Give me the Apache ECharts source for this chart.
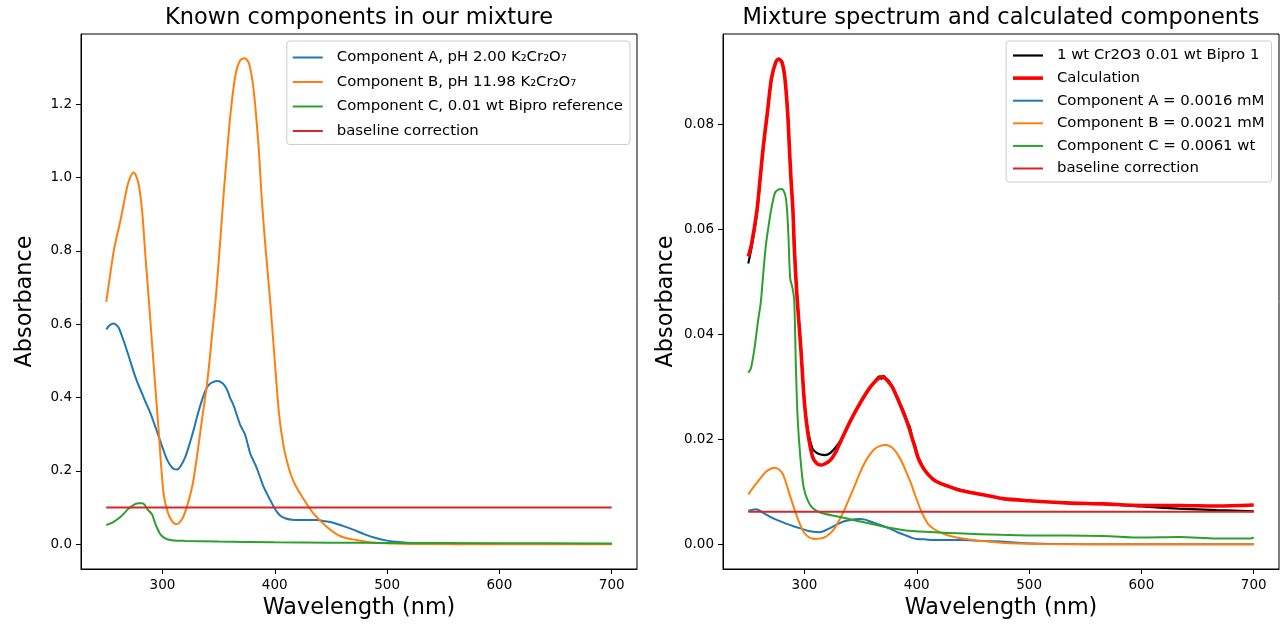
<!DOCTYPE html>
<html>
<head>
<meta charset="utf-8">
<title>Known components and mixture spectrum</title>
<script src="https://cdn.jsdelivr.net/npm/echarts@6/dist/echarts.min.js"></script>
<style>
  html, body { margin: 0; padding: 0; background: #fff; }
  #chart { width: 1281px; height: 625px; }
</style>
</head>
<body>
<div id="chart"></div>
<script>
// ---- tick labels ----
const wavelengthTicks = [300, 400, 500, 600, 700];
const leftAbsTicks = [0, 0.2, 0.4, 0.6, 0.8, 1.0, 1.2];
const rightAbsTicks = [0, 0.02, 0.04, 0.06, 0.08];

// ---- left panel: reference spectra, [wavelength nm, absorbance] ----
const refA = [[250,0.586],[253,0.597],[256.3,0.602],[259,0.598],[261.3,0.589],[264,0.567],[267.2,0.539],[271,0.503],[274.6,0.468],[278,0.439],[282,0.41],[285.5,0.384],[289.4,0.357],[293,0.326],[296.8,0.293],[300.5,0.26],[304.2,0.23],[308,0.211],[310.5,0.205],[313.1,0.204],[316,0.212],[320.5,0.239],[324,0.272],[327.8,0.312],[331.5,0.355],[335.2,0.393],[338,0.417],[341.1,0.434],[345,0.442],[349.1,0.445],[352,0.442],[355.1,0.434],[358,0.418],[360.4,0.398],[362.5,0.385],[364.8,0.366],[367,0.345],[369.3,0.325],[371.5,0.312],[373.7,0.298],[376,0.272],[378.1,0.248],[381,0.228],[384.1,0.207],[387,0.182],[390,0.157],[393,0.138],[395.9,0.121],[398.8,0.104],[401.8,0.089],[405,0.078],[409.2,0.071],[415,0.067],[422.5,0.066],[430,0.066],[437.3,0.066],[445,0.063],[452,0.059],[460,0.051],[469.8,0.040],[480,0.027],[490,0.017],[500,0.010],[510,0.006],[525,0.003],[550,0.0015],[600,0.001],[700,0.0008]];
const refB = [[250,0.661],[253,0.725],[257,0.805],[263,0.888],[269,0.979],[272,1.005],[274,1.013],[276.5,1.005],[279,0.979],[282,0.906],[285,0.779],[288,0.661],[292.3,0.484],[296.8,0.303],[301,0.139],[305,0.085],[309,0.061],[312.5,0.055],[316,0.062],[319,0.078],[323,0.115],[327,0.165],[331,0.245],[335,0.335],[340,0.445],[344,0.565],[348,0.69],[351.5,0.83],[354.4,0.95],[356.5,1.03],[360.5,1.17],[365,1.279],[369,1.318],[373,1.325],[377,1.311],[381,1.243],[385.5,1.088],[388.5,0.938],[392,0.80],[396,0.66],[400,0.50],[404,0.35],[408,0.265],[411,0.225],[414,0.193],[418,0.163],[422.5,0.139],[428,0.112],[434.3,0.0845],[440,0.066],[446.2,0.048],[452,0.034],[458,0.0226],[465,0.016],[472.8,0.0117],[480,0.008],[490,0.004],[505,0.002],[520,0.001],[560,0.0003],[700,0.0]];
const refC = [[250,0.0526],[255.4,0.059],[262.8,0.075],[270.2,0.098],[276.1,0.110],[279,0.112],[282,0.112],[284,0.108],[286.5,0.096],[289,0.088],[291,0.080],[293,0.062],[295.3,0.044],[298,0.028],[301,0.019],[305,0.013],[310,0.0105],[320,0.0093],[350,0.0075],[400,0.0055],[450,0.0045],[500,0.0038],[600,0.003],[700,0.0025]];
const refBaseline = [[250,0.1],[700,0.1]];

// ---- right panel: measured mixture, fit and scaled components ----
const mixWavelength = [250,252.9,257.7,260.6,263.5,267.1,270.7,274.6,277.2,280,282.6,285,286.5,288,289.8,290.9,292.4,293.9,296.9,299.8,302.8,307.2,311,314.5,318,323,327.5,332.5,341.4,350.4,357.8,363.7,366.5,368.5,370.5,372.5,374.5,377.5,380,383,386,389,391.9,394,396.3,398.5,400.8,403.5,406.8,411,415.7,421,427.5,434,442.4,450,460.2,476.6,500,533,566,600,633,667,700];
const mixMeasured = [0.0535,0.0565,0.0630,0.0693,0.0757,0.0822,0.0886,0.0918,0.0925,0.0919,0.0889,0.0826,0.0762,0.0698,0.0635,0.0572,0.0509,0.0458,0.0372,0.0277,0.0221,0.0182,0.0174,0.0171,0.0170,0.0174,0.0184,0.0199,0.0237,0.0272,0.0297,0.0313,0.0320,0.0315,0.0321,0.0316,0.0313,0.0303,0.0290,0.0280,0.0264,0.0250,0.0232,0.0222,0.0201,0.0188,0.0168,0.0156,0.0143,0.0131,0.0122,0.0116,0.0111,0.0106,0.0102,0.0098,0.0094,0.0087,0.0083,0.0079,0.0077,0.0072,0.0068,0.0065,0.0063];
const mixCalculated = [0.0548,0.0572,0.0636,0.0698,0.0760,0.0824,0.0888,0.0919,0.0924,0.0918,0.0888,0.0824,0.0760,0.0697,0.0634,0.0570,0.0507,0.0456,0.0370,0.0275,0.0216,0.0167,0.0154,0.0151,0.0153,0.0160,0.0174,0.0197,0.0237,0.0272,0.0297,0.0312,0.0317,0.0319,0.0318,0.0315,0.0310,0.0302,0.0292,0.0277,0.0262,0.0246,0.0230,0.0216,0.0199,0.0184,0.0167,0.0154,0.0142,0.0131,0.0122,0.0116,0.0111,0.0106,0.0101,0.0098,0.0094,0.0087,0.0083,0.0079,0.0077,0.0074,0.0074,0.0073,0.0075];
const fitA = [[250,0.0064],[256.8,0.0067],[264.2,0.0059],[270,0.0052],[276,0.0046],[283,0.0040],[290.9,0.0034],[297,0.0030],[302.8,0.0026],[308,0.0024],[312.3,0.0023],[317,0.0025],[323.6,0.0032],[329,0.0038],[335.5,0.0044],[342,0.0047],[348.8,0.0048],[354,0.0047],[359.3,0.0043],[365,0.0039],[371.1,0.0034],[377,0.0029],[383,0.0023],[389,0.0018],[394.9,0.0013],[400,0.0010],[406.8,0.00095],[415,0.0008],[424.6,0.0008],[440,0.0008],[454.3,0.0007],[466,0.0006],[478,0.0005],[490,0.0003],[505,0.00015],[520,0.00008],[550,0.00003],[700,0.00002]];
const fitB = [[250,0.0095],[254,0.0107],[258.2,0.0119],[262,0.0129],[265.7,0.0138],[270,0.0144],[273.7,0.0146],[277,0.0143],[280.5,0.0135],[283.5,0.0118],[286.5,0.0097],[289.5,0.0077],[292.4,0.0059],[295.5,0.0041],[298.3,0.0027],[301,0.0019],[304.3,0.0013],[307,0.0011],[310.2,0.0010],[313.5,0.0011],[317.6,0.0013],[322,0.0019],[326.6,0.0030],[331,0.0046],[335.5,0.0065],[340,0.0088],[344.4,0.0110],[349,0.0134],[353.3,0.0154],[357.5,0.0169],[362.2,0.0181],[367,0.0187],[371.7,0.0189],[376,0.0187],[380,0.0180],[384,0.0168],[387.4,0.0154],[391,0.0136],[394.9,0.0116],[398.5,0.0094],[402.3,0.0072],[406,0.0054],[409.7,0.0040],[414,0.0031],[418.6,0.0025],[425,0.0019],[433.5,0.0014],[444,0.0010],[454.3,0.0007],[465,0.0005],[475.1,0.0003],[490,0.00015],[510,0.00005],[550,0.00001],[700,0.0]];
const fitC = [[250,0.0327],[252.3,0.0335],[255.3,0.037],[258.8,0.0427],[261.2,0.0462],[263.5,0.0520],[265.7,0.057],[268,0.0605],[270.1,0.0634],[273.7,0.0669],[277,0.0676],[279.9,0.0677],[283.5,0.0659],[285.6,0.0595],[287.3,0.0507],[289.4,0.0488],[290.9,0.0465],[292.4,0.0338],[293.9,0.0243],[296.3,0.0167],[299.2,0.011],[302.8,0.0084],[307.2,0.0069],[314.7,0.006],[329.5,0.0053],[344.4,0.0046],[359.3,0.0039],[374.1,0.0032],[388.9,0.0027],[406.8,0.0024],[436.5,0.0021],[475.1,0.0018],[500,0.0017],[533,0.0017],[566.5,0.0016],[600,0.0013],[633.6,0.0014],[667,0.0011],[697,0.0011],[700,0.0013]];
const fitBaseline = [[250,0.0062],[700,0.0062]];

const FONT = '"DejaVu Sans", sans-serif';
const zip = (xs, ys) => xs.map((x, i) => [x, ys[i]]);

function xAxisFor(gridIndex) {
  return {
    gridIndex, type: 'value', min: 227.5, max: 722.5,
    axisLine: { show: true, onZero: false, lineStyle: { color: '#000', width: 1 } },
    axisTick: { show: true, length: 5, lineStyle: { color: '#000', width: 1 }, customValues: wavelengthTicks },
    axisLabel: { customValues: wavelengthTicks, margin: 9, fontSize: 13.5, color: '#000', fontFamily: FONT },
    splitLine: { show: false },
    name: 'Wavelength (nm)', nameLocation: 'middle', nameGap: 28,
    nameTextStyle: { fontSize: 22.3, color: '#000', fontFamily: FONT }
  };
}
function yAxisFor(gridIndex, min, max, ticks, digits, gap) {
  return {
    gridIndex, type: 'value', min, max,
    axisLine: { show: true, onZero: false, lineStyle: { color: '#000', width: 1 } },
    axisTick: { show: true, length: 5, lineStyle: { color: '#000', width: 1 }, customValues: ticks },
    axisLabel: { customValues: ticks, margin: 9, fontSize: 13.5, color: '#000', fontFamily: FONT,
                 formatter: v => v.toFixed(digits) },
    splitLine: { show: false },
    name: 'Absorbance', nameLocation: 'middle', nameGap: gap, nameRotate: 90,
    nameTextStyle: { fontSize: 22.3, color: '#000', fontFamily: FONT }
  };
}
function line(name, data, color, width, axis) {
  return {
    name, type: 'line', data, xAxisIndex: axis, yAxisIndex: axis,
    symbol: 'none', showSymbol: false, smooth: 0.3, silent: true,
    lineStyle: { color, width }, itemStyle: { color }
  };
}
function legendFor(names, right, gap, padTop, padBottom) {
  return {
    data: names, orient: 'vertical', right, top: 41,
    itemWidth: 30, itemHeight: 14, itemGap: gap,
    padding: [padTop, 7, padBottom, 5],
    // the legend key is the line sample only
    itemStyle: { opacity: 0 },
    lineStyle: { width: 'inherit' },
    backgroundColor: 'rgba(255,255,255,0.8)', borderColor: '#cccccc', borderWidth: 1, borderRadius: 3,
    textStyle: { fontSize: 14.9, color: '#000', fontFamily: FONT, lineHeight: 15, padding: [0, 0, 0, 9] },
    selectedMode: false
  };
}

const nameA = 'Component A, pH 2.00 K\u2082Cr\u2082O\u2087';
const nameB = 'Component B, pH 11.98 K\u2082Cr\u2082O\u2087';
const nameC = 'Component C, 0.01 wt Bipro reference';
const nameBase = 'baseline correction';
const nameMix = '1 wt Cr2O3 0.01 wt Bipro 1';
const nameCalc = 'Calculation';
const nameFitA = 'Component A = 0.0016 mM';
const nameFitB = 'Component B = 0.0021 mM';
const nameFitC = 'Component C = 0.0061 wt';

const option = {
  animation: false,
  backgroundColor: '#ffffff',
  textStyle: { fontFamily: FONT },
  title: [
    { text: 'Known components in our mixture', left: 359, top: 7, textAlign: 'center', padding: 0,
      textStyle: { fontSize: 22.5, fontWeight: 'normal', color: '#000', fontFamily: FONT } },
    { text: 'Mixture spectrum and calculated components', left: 1001, top: 7, textAlign: 'center', padding: 0,
      textStyle: { fontSize: 22.5, fontWeight: 'normal', color: '#000', fontFamily: FONT } }
  ],
  grid: [
    { left: 81, top: 34, width: 556, height: 535, show: true, borderColor: '#000', borderWidth: 1,
      backgroundColor: 'transparent', outerBoundsMode: 'none' },
    { left: 723, top: 34, width: 556, height: 535, show: true, borderColor: '#000', borderWidth: 1,
      backgroundColor: 'transparent', outerBoundsMode: 'none' }
  ],
  xAxis: [xAxisFor(0), xAxisFor(1)],
  yAxis: [
    yAxisFor(0, -0.0673, 1.3908, leftAbsTicks, 1, 45),
    yAxisFor(1, -0.0047, 0.0972, rightAbsTicks, 2, 46)
  ],
  legend: [
    legendFor([nameA, nameB, nameC, nameBase], 651, 9.5, 9, 6),
    legendFor([nameMix, nameCalc, nameFitA, nameFitB, nameFitC, nameBase], 9.5, 7.6, 7, 6)
  ],
  series: [
    line(nameA, refA, '#1f77b4', 2, 0),
    line(nameB, refB, '#ff7f0e', 2, 0),
    line(nameC, refC, '#2ca02c', 2, 0),
    line(nameBase, refBaseline, '#d62728', 2, 0),
    line(nameMix, zip(mixWavelength, mixMeasured), '#000000', 2.2, 1),
    line(nameCalc, zip(mixWavelength, mixCalculated), '#ff0000', 3.6, 1),
    line(nameFitA, fitA, '#1f77b4', 2, 1),
    line(nameFitB, fitB, '#ff7f0e', 2, 1),
    line(nameFitC, fitC, '#2ca02c', 2, 1),
    line(nameBase, fitBaseline, '#d62728', 2, 1)
  ]
};

const chart = echarts.init(document.getElementById('chart'), null, { renderer: 'canvas' });
chart.setOption(option);
</script>
</body>
</html>
